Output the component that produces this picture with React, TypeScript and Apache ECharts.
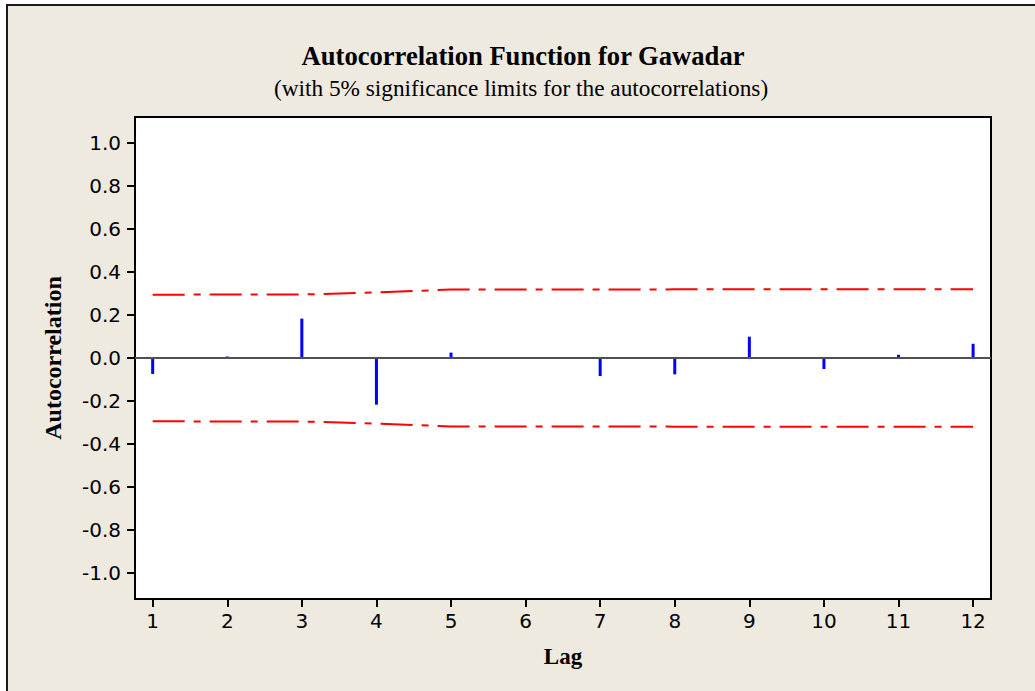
import React, { useEffect, useRef } from "react";
import * as echarts from "echarts";

const lags = [1, 2, 3, 4, 5, 6, 7, 8, 9, 10, 11, 12];
const acf = [-0.074, 0.007, 0.183, -0.217, 0.025, 0.003, -0.084, -0.076, 0.099, -0.051, 0.015, 0.066];
const upperLimit = [0.294, 0.295, 0.295, 0.305, 0.318, 0.318, 0.318, 0.319, 0.319, 0.319, 0.32, 0.32];
const yTicks = [-1.0, -0.8, -0.6, -0.4, -0.2, 0.0, 0.2, 0.4, 0.6, 0.8, 1.0];
const titleText = "Autocorrelation Function for Gawadar";
const subtitleText = "(with 5% significance limits for the autocorrelations)";

export default function App() {
  const ref = useRef<HTMLDivElement>(null);
  useEffect(() => {
    if (!ref.current) return;
    const chart = echarts.init(ref.current, null, { renderer: "svg" });
    const serif = "'Liberation Serif', 'Times New Roman', serif";
    const sans = "'DejaVu Sans', Verdana, sans-serif";
    chart.setOption({
      animation: false,
      backgroundColor: "#ffffff",
      graphic: [
        {
          type: "rect",
          z: -10,
          shape: { x: 7, y: 5, width: 1100, height: 800 },
          style: { fill: "#EEEAE0", stroke: "#1a1a1a", lineWidth: 2 },
          silent: true,
        },
      ],
      title: [
        {
          text: titleText,
          left: 518,
          top: 37,
          textAlign: "center",
          textStyle: { fontFamily: serif, fontWeight: "bold", fontSize: 26.6, color: "#000" },
        },
        {
          text: subtitleText,
          left: 516,
          top: 71,
          textAlign: "center",
          textStyle: { fontFamily: serif, fontWeight: "normal", fontSize: 23.3, color: "#000" },
        },
      ],
      grid: {
        left: 135,
        top: 117,
        right: 44,
        bottom: 92,
        show: true,
        backgroundColor: "#ffffff",
        borderColor: "#000",
        borderWidth: 2,
      },
      xAxis: {
        type: "value",
        min: 0.763,
        max: 12.24,
        name: "Lag",
        nameLocation: "middle",
        nameGap: 46,
        nameTextStyle: { fontFamily: serif, fontWeight: "bold", fontSize: 23, color: "#000" },
        axisLine: { show: true, onZero: false, lineStyle: { color: "#000", width: 2 } },
        axisTick: { show: true, length: 8, lineStyle: { color: "#000", width: 2 }, customValues: lags },
        axisLabel: {
          customValues: lags,
          margin: 12,
          fontFamily: sans,
          fontSize: 20,
          color: "#000",
          formatter: (v: number) => String(v),
        },
        splitLine: { show: false },
      },
      yAxis: {
        type: "value",
        min: -1.12,
        max: 1.12,
        name: "Autocorrelation",
        nameLocation: "middle",
        nameRotate: 90,
        nameGap: 70,
        nameTextStyle: { fontFamily: serif, fontWeight: "bold", fontSize: 24, color: "#000" },
        axisLine: { show: true, onZero: false, lineStyle: { color: "#000", width: 2 } },
        axisTick: { show: true, length: 8, lineStyle: { color: "#000", width: 2 }, customValues: yTicks },
        axisLabel: {
          customValues: yTicks,
          margin: 14,
          fontFamily: sans,
          fontSize: 20,
          color: "#000",
          formatter: (v: number) => v.toFixed(1),
        },
        splitLine: { show: false },
      },
      series: [
        {
          type: "bar",
          data: lags.map((l, i) => [l, acf[i]]),
          barWidth: 3,
          itemStyle: { color: "#0000ff" },
          z: 3,
          markLine: {
            silent: true,
            symbol: "none",
            label: { show: false },
            lineStyle: { color: "#505050", width: 2, type: "solid" },
            data: [{ yAxis: 0 }],
          },
        },
        {
          type: "line",
          data: lags.map((l, i) => [l, upperLimit[i]]),
          symbol: "none",
          lineStyle: { color: "#ff0000", width: 2, type: [32, 9, 7, 9] },
          z: 2,
        },
        {
          type: "line",
          data: lags.map((l, i) => [l, -upperLimit[i]]),
          symbol: "none",
          lineStyle: { color: "#ff0000", width: 2, type: [32, 9, 7, 9] },
          z: 2,
        },
      ],
    });
    return () => chart.dispose();
  }, []);
  return (
    <div
      ref={ref}
      style={{ position: "absolute", left: 0, top: 0, width: 1035, height: 691 }}
    />
  );
}
